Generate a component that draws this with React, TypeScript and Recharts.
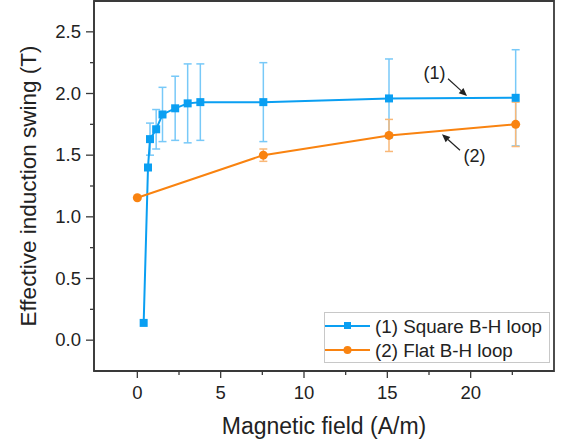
import React from 'react'
import {
  ComposedChart, Line, XAxis, YAxis, ErrorBar,
  ReferenceLine, ReferenceDot, ReferenceArea,
} from 'recharts'

// (1) square B-H loop
const squareH   = [0.38, 0.64, 0.76, 1.13, 1.51, 2.27, 3.02, 3.78, 7.56, 15.1, 22.7]
const squareB   = [0.14, 1.40, 1.63, 1.71, 1.83, 1.88, 1.92, 1.93, 1.93, 1.96, 1.965]
const squareErr = [0, 0, 0.13, 0.16, 0.22, 0.26, 0.32, 0.31, 0.32, 0.32, 0.39]

// (2) flat B-H loop
const flatH   = [0, 7.56, 15.1, 22.7]
const flatB   = [1.155, 1.50, 1.66, 1.75]
const flatErr = [0, 0.05, 0.13, 0.18]

const xTicks = [0, 2.5, 5, 7.5, 10, 12.5, 15, 17.5, 20, 22.5]
const yTicks = [0, 0.25, 0.5, 0.75, 1, 1.25, 1.5, 1.75, 2, 2.25, 2.5]

const squareData = squareH.map((h, i) => ({ h, b: squareB[i], err: squareErr[i] }))
const flatData   = flatH.map((h, i) => ({ h, b: flatB[i], err: flatErr[i] }))

const FONT   = '"Liberation Sans", Arial, sans-serif'
const BLUE   = '#0a9ff2'
const BLUE_E = '#78c9f8'
const ORNG   = '#f98310'
const ORNG_E = '#f9b878'
const AXIS   = '#3a3a3a'

const XTick = ({ x, y, payload }: any) => {
  const major = payload.value % 5 === 0
  return (
    <g>
      <line x1={x} y1={y} x2={x} y2={y + (major ? 7 : 4)} stroke={AXIS} strokeWidth={1.3} />
      {major && (
        <text x={x} y={y + 28} textAnchor="middle" fontSize={18.5} fill="#222" fontFamily={FONT}>
          {payload.value}
        </text>
      )}
    </g>
  )
}

const YTick = ({ x, y, payload }: any) => {
  const major = Math.abs((payload.value * 2) - Math.round(payload.value * 2)) < 1e-6
  return (
    <g>
      <line x1={x} y1={y} x2={x - (major ? 8 : 4)} y2={y} stroke={AXIS} strokeWidth={1.3} />
      {major && (
        <text x={x - 13} y={y + 6} textAnchor="end" fontSize={18.5} fill="#222" fontFamily={FONT}>
          {payload.value.toFixed(1)}
        </text>
      )}
    </g>
  )
}

const SquareDot = ({ cx, cy, index }: any) => (
  <rect key={`s${index}`} x={cx - 4} y={cy - 4} width={8} height={8} fill={BLUE} />
)

const CircleDot = ({ cx, cy, index }: any) => (
  <circle key={`c${index}`} cx={cx} cy={cy} r={4.5} fill={ORNG} />
)

const Arrow = ({ x1, y1, x2, y2 }: any) => {
  const a = Math.atan2(y2 - y1, x2 - x1)
  const L = 8, W = 3.5
  const bx = x2 - L * Math.cos(a), by = y2 - L * Math.sin(a)
  const p1 = `${bx + W * Math.sin(a)},${by - W * Math.cos(a)}`
  const p2 = `${bx - W * Math.sin(a)},${by + W * Math.cos(a)}`
  return (
    <g>
      <line x1={x1} y1={y1} x2={bx} y2={by} stroke="#222" strokeWidth={1.2} />
      <polygon points={`${x2},${y2} ${p1} ${p2}`} fill="#222" />
    </g>
  )
}

const tag = (t: string) => ({ cx, cy }: any) => (
  <text x={cx} y={cy + 6} textAnchor="middle" fontSize={18} fill="#222" fontFamily={FONT}>{t}</text>
)

const LegendBox = () => (
  <svg width={226} height={51} style={{ position: 'absolute', left: 324, top: 312 }}>
    <rect x={0.5} y={0.5} width={225} height={50} fill="#fff" stroke="#c8c8c8" />
    <line x1={1} y1={14} x2={46} y2={14} stroke={BLUE} strokeWidth={2} />
    <rect x={20} y={10} width={7} height={7} fill={BLUE} />
    <text x={51} y={21} fontSize={18.8} fill="#222" fontFamily={FONT}>(1) Square B-H loop</text>
    <line x1={1} y1={38} x2={46} y2={38} stroke={ORNG} strokeWidth={2} />
    <circle cx={23.5} cy={38} r={4} fill={ORNG} />
    <text x={51} y={45} fontSize={18.8} fill="#222" fontFamily={FONT}>(2) Flat B-H loop</text>
  </svg>
)

export default function App() {
  return (
    <div style={{ position: 'absolute', left: 0, top: 0, width: 561, height: 444, background: '#fff' }}>
      <ComposedChart width={561} height={444} margin={{ top: 1, right: 7, bottom: 0, left: 0 }}>
        <XAxis
          dataKey="h" type="number" domain={[-2.6, 25]} ticks={xTicks} allowDataOverflow
          height={73} tickSize={0} tickMargin={0} tickLine={false}
          axisLine={{ stroke: AXIS, strokeWidth: 1.5 }} tick={<XTick />} interval={0}
          label={({ viewBox }: any) => (
            <text x={viewBox.x + viewBox.width / 2} y={viewBox.y + 63} textAnchor="middle"
              fontSize={23} fill="#222" fontFamily={FONT}>Magnetic field (A/m)</text>
          )}
        />
        <YAxis
          type="number" domain={[-0.25, 2.75]} ticks={yTicks} allowDataOverflow
          width={94} tickSize={0} tickMargin={0} tickLine={false}
          axisLine={{ stroke: AXIS, strokeWidth: 1.5 }} tick={<YTick />} interval={0}
          label={({ viewBox }: any) => (
            <text x={28} y={viewBox.y + viewBox.height / 2} textAnchor="middle"
              dominantBaseline="central" transform={`rotate(-90 28 ${viewBox.y + viewBox.height / 2})`}
              fontSize={22.5} fill="#222" fontFamily={FONT}>Effective induction swing (T)</text>
          )}
        />

        <ReferenceArea x1={-2.6} x2={25} y1={-0.25} y2={2.75} fill="none"
          stroke={AXIS} strokeWidth={1.8} ifOverflow="visible" />

        <Line data={squareData} dataKey="b" stroke={BLUE} strokeWidth={2} dot={<SquareDot />}
          activeDot={false} isAnimationActive={false}>
          <ErrorBar dataKey="err" stroke={BLUE_E} strokeWidth={1.5} width={4} isAnimationActive={false} />
        </Line>
        <Line data={flatData} dataKey="b" stroke={ORNG} strokeWidth={2} dot={<CircleDot />}
          activeDot={false} isAnimationActive={false}>
          <ErrorBar dataKey="err" stroke={ORNG_E} strokeWidth={1.5} width={4} isAnimationActive={false} />
        </Line>

        <ReferenceLine segment={[{ x: 18.64, y: 2.12 }, { x: 19.78, y: 1.98 }]} shape={<Arrow />} />
        <ReferenceLine segment={[{ x: 19.36, y: 1.54 }, { x: 18.28, y: 1.67 }]} shape={<Arrow />} />
        <ReferenceDot x={17.83} y={2.17} r={0} shape={tag('(1)')} />
        <ReferenceDot x={20.23} y={1.49} r={0} shape={tag('(2)')} />
      </ComposedChart>
      <LegendBox />
    </div>
  )
}
